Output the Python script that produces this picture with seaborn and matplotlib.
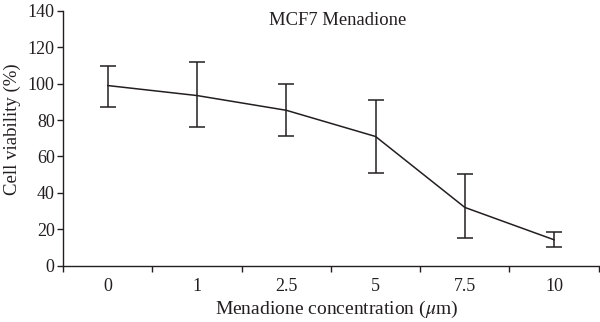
import matplotlib
matplotlib.use("Agg")
import matplotlib.pyplot as plt
import seaborn as sns
import pandas as pd
import numpy as np

concentrations = ["0", "1", "2.5", "5", "7.5", "10"]
viability = [99, 93.5, 85.4, 71, 32, 14.2]
upper = [110, 112, 99.7, 91.3, 50.5, 18.6]
lower = [87, 76, 71, 50.9, 15.4, 10.3]

sns.set_theme(style="ticks")
plt.rcParams["font.family"] = ["Liberation Serif", "DejaVu Serif"]
plt.rcParams["mathtext.fontset"] = "stix"

df = pd.DataFrame({"conc": concentrations, "viability": viability})
color = "#231f20"

fig = plt.figure(figsize=(6, 3.22), dpi=100)
ax = fig.add_axes([0.105, 0.175, 0.893, 0.791])

sns.pointplot(data=df, x="conc", y="viability", order=concentrations,
              color=color, markers="", errorbar=None, linewidth=1.1, ax=ax)

xpos = np.arange(len(concentrations))
yerr = np.array([np.array(viability) - np.array(lower),
                 np.array(upper) - np.array(viability)])
ax.errorbar(xpos, viability, yerr=yerr, fmt="none", ecolor=color,
            elinewidth=1.1, capsize=5.5, capthick=1.1)

ax.set_xlim(-0.5, len(concentrations) - 0.5)
ax.set_ylim(0, 140)
ax.set_yticks(range(0, 141, 20))
ax.set_xticks(xpos)
ax.set_xticklabels(concentrations)
ax.set_xticks(np.arange(-0.5, len(concentrations), 1.0), minor=True)
ax.tick_params(axis="x", which="major", length=0, pad=9, labelsize=13, colors=color)
ax.tick_params(axis="x", which="minor", length=4.5, width=1, color=color)
ax.tick_params(axis="y", length=4, width=1, labelsize=13, colors=color, pad=2)

for s in ["top", "right"]:
    ax.spines[s].set_visible(False)
for s in ["left", "bottom"]:
    ax.spines[s].set_color(color)
    ax.spines[s].set_linewidth(1)

ax.set_xlabel(r"Menadione concentration ($\mu$m)", fontsize=14, color=color)
ax.set_ylabel("Cell viability (%)", fontsize=13.5, color=color)
ax.xaxis.set_label_coords(0.51, -0.132)
ax.yaxis.set_label_coords(-0.078, 0.534)
ax.text(0.512, 0.995, "MCF7 Menadione", transform=ax.transAxes, ha="center",
        va="top", fontsize=13.4, color=color)

fig.savefig("out.png", dpi=100)
